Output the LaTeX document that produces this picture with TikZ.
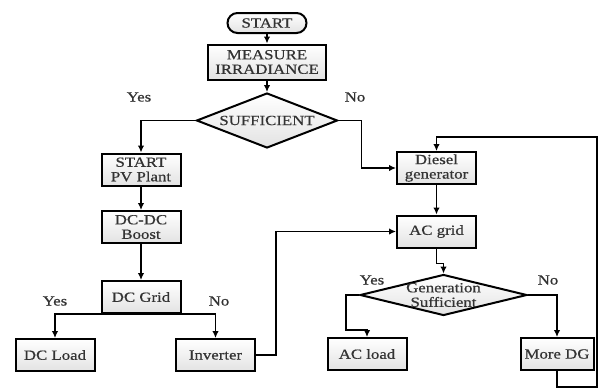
\documentclass[tikz,border=0pt]{standalone}
\usepackage{fontspec}
\setmainfont{Liberation Serif}[FakeStretch=1.2, FakeBold=0.6]
\usetikzlibrary{shapes.geometric,arrows.meta}

\tikzset{
  block/.style={draw, line width=2pt, top color=white, bottom color=gray!22,
    minimum width=79pt, minimum height=32pt, inner sep=1pt, align=center, text=black!80},
  term/.style={block, rounded corners=10pt, minimum height=20pt},
  decision/.style={draw, diamond, line width=2pt, top color=white, bottom color=gray!22,
    inner sep=0pt},
  line/.style={line width=1.8pt, -{Latex[length=7pt,width=6.5pt]}},
}

\begin{document}
\begin{tikzpicture}[x=1pt, y=-1pt, font=\fontsize{14}{14.5}\selectfont,
    every label/.style={text=black!80, align=center}]
  \useasboundingbox (0,0) rectangle (605,388);

  \node[term] (start) at (267,23) {START};
  \node[block, minimum width=118pt, minimum height=35pt] (measure) at (267,62) {MEASURE\\IRRADIANCE};
  \node[decision, minimum width=141pt, minimum height=55pt, label={center:SUFFICIENT}] (suff) at (267,120.5) {};
  \node[text=black!80] (yesA) at (139,97) {Yes};
  \node[text=black!80] (noA) at (355,97) {No};

  \node[block] (pv) at (141,169.5) {START\\PV Plant};
  \node[block] (boost) at (141,227) {DC-DC\\Boost};
  \node[block] (dcgrid) at (141,297) {DC Grid};
  \node[text=black!80] (yesB) at (55,301) {Yes};
  \node[text=black!80] (noB) at (219,301) {No};
  \node[block] (dcload) at (55,355) {DC Load};
  \node[block] (inv) at (215.5,355) {Inverter};

  \node[block] (diesel) at (436.5,168) {Diesel\\generator};
  \node[block] (acgrid) at (436.5,231.5) {AC grid};
  \node[decision, minimum width=167pt, minimum height=41pt,
    label={center:Generation\\Sufficient}] (gen) at (443.5,295) {};
  \node[text=black!80] (yesC) at (372,280) {Yes};
  \node[text=black!80] (noC) at (548,280) {No};
  \node[block] (acload) at (367,354) {AC load};
  \node[block, minimum width=73pt] (moredg) at (557,354) {More DG};

  \draw[line] (start) -- (measure);
  \draw[line] (measure) -- (suff);
  \draw[line] (suff.west) -| (pv);
  \draw[line] (suff.east) -- ++(23,0) |- (diesel);
  \draw[line] (pv) -- (boost);
  \draw[line] (boost) -- (dcgrid);
  \draw[line] (dcgrid.south) -| (dcload);
  \draw[line] (dcgrid.south) -| (inv);
  \draw[line] (inv.east) -- ++(20,0) |- (acgrid);
  \draw[line] (diesel) -- (acgrid);
  \draw[line] (acgrid.south) -- ++(0,15) -| (gen.north);
  \draw[line] (gen.west) -- ++(-13,0) -- ++(0,35) -| (acload);
  \draw[line] (gen.east) -| (moredg);
  \draw[line] (moredg.south) -- ++(0,16) -- ++(40,0) -- ++(0,-250) -| (diesel);
\end{tikzpicture}
\end{document}
